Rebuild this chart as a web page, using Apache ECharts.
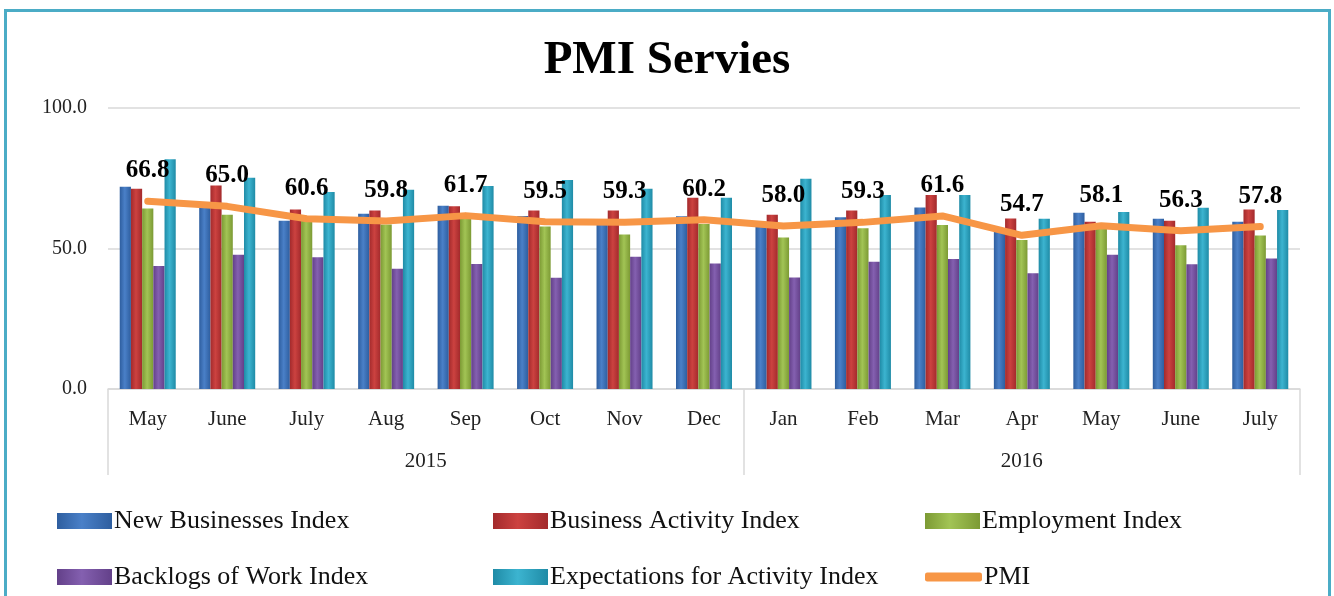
<!DOCTYPE html>
<html>
<head>
<meta charset="utf-8">
<script src="https://cdn.jsdelivr.net/npm/echarts@6/dist/echarts.min.js"></script>
<style>
html,body{margin:0;padding:0;background:#fff;}
#c{width:1334px;height:596px;}
</style>
</head>
<body>
<div id="c"></div>
<script>
const months = ['May','June','July','Aug','Sep','Oct','Nov','Dec','Jan','Feb','Mar','Apr','May','June','July'];
const years = ['2015','2016'];
const yearSpan = [8, 7];
const yTicks = [0, 50, 100];
const newBusinesses = [72.0,66.5,59.9,62.4,65.2,61.6,59.2,61.5,58.6,61.1,64.6,56.0,62.7,60.6,59.5];
const businessActivity = [71.3,72.4,63.9,63.5,65.0,63.5,63.5,68.1,62.0,63.5,69.0,60.7,59.5,59.9,63.9];
const employment = [64.2,62.0,60.6,58.5,61.0,57.8,55.0,58.7,53.9,57.2,58.4,53.0,57.2,51.2,54.6];
const backlogs = [43.8,47.8,46.9,42.8,44.5,39.6,47.1,44.7,39.7,45.3,46.3,41.2,47.8,44.4,46.4];
const expectations = [81.8,75.2,70.1,70.9,72.2,74.4,71.3,68.1,74.8,69.0,69.0,60.6,63.0,64.5,63.7];
const pmi = [66.8,65.0,60.6,59.8,61.7,59.5,59.3,60.2,58.0,59.3,61.6,54.7,58.1,56.3,57.8];
const seriesNames = ['New Businesses Index','Business Activity Index','Employment Index','Backlogs of Work Index','Expectations for Activity Index','PMI'];

const serif = '"Liberation Serif", "DejaVu Serif", serif';
function grad(dark, light){
  return new echarts.graphic.LinearGradient(0,0,1,0,[
    {offset:0,color:dark},{offset:0.45,color:light},{offset:1,color:dark}
  ]);
}
const barColors = [
  grad('#2E5E9F','#4A80C8'),
  grad('#A32A2C','#CC4240'),
  grad('#7C9A34','#A2C455'),
  grad('#634089','#8460B0'),
  grad('#1F8BA6','#3CB4D0')
];
const barData = [newBusinesses, businessActivity, employment, backlogs, expectations];

const yearCenters = [];
const yearBounds = [0];
let acc = 0;
yearSpan.forEach(s => { yearCenters.push(acc + s/2); acc += s; yearBounds.push(acc); });

const series = barData.map((d,i) => ({
  name: seriesNames[i], type:'bar', data:d, xAxisIndex:0, yAxisIndex:0,
  barWidth: 11.2, barGap: '0%',
  itemStyle:{color:barColors[i]}
}));
series.push({
  name:'PMI', type:'line', data:pmi, xAxisIndex:0, yAxisIndex:0,
  symbol:'circle', symbolSize:2, z:5,
  itemStyle:{color:'#F79646'},
  lineStyle:{color:'#F79646', width:7, cap:'round', join:'round'},
  label:{show:true, position:'top', distance:17, fontFamily:serif, fontWeight:'bold', fontSize:25, color:'#000',
    formatter:p=>p.value.toFixed(1)}
});

const legendPos = [[57,508],[493,508],[925,508],[57,564],[493,564],[925,564]];
const legends = seriesNames.map((n,i)=>({
  data:[ i===5 ? {name:n, icon:'roundRect', itemStyle:{color:'#F79646'}} : {name:n, icon:'rect'} ],
  left: legendPos[i][0], top: legendPos[i][1], padding:0,
  itemWidth: i===5 ? 57 : 55, itemHeight: i===5 ? 9 : 16, itemGap: 0,
  selectedMode:false,
  textStyle:{fontFamily:serif, fontSize:26, color:'#111', padding:[0,0,0,-3]}
}));

const option = {
  animation:false,
  backgroundColor:'#fff',
  title:{text:'PMI Servies', left:'center', top:32, textStyle:{fontFamily:serif, fontWeight:'bold', fontSize:47, color:'#000'}},
  legend: legends,
  grid:{left:108, right:34, top:108, bottom:207, containLabel:false},
  xAxis:[
    {type:'category', data:months, position:'bottom',
     axisLine:{show:true, lineStyle:{color:'#D9D9D9', width:1.5}},
     axisTick:{show:false},
     axisLabel:{fontFamily:serif, fontSize:21, color:'#222', margin:20, interval:0}},
    {type:'value', min:0, max:15, position:'bottom',
     axisLine:{show:false}, splitLine:{show:false},
     axisTick:{show:true, customValues:yearBounds, length:86, lineStyle:{color:'#D9D9D9', width:1.5}},
     axisLabel:{show:true, customValues:yearCenters, margin:62, fontFamily:serif, fontSize:21, color:'#222',
       formatter:v=>{const i=yearCenters.indexOf(v); return i>=0?years[i]:'';}}}
  ],
  yAxis:{type:'value', min:yTicks[0], max:yTicks[yTicks.length-1], interval:50,
    axisLine:{show:false}, axisTick:{show:false},
    splitLine:{lineStyle:{color:'#D9D9D9', width:1.5}},
    axisLabel:{fontFamily:serif, fontSize:20, color:'#222', margin:21, formatter:v=>v.toFixed(1)}},
  graphic:[{type:'rect', shape:{x:5.5, y:10.5, width:1324, height:620}, style:{fill:'none', stroke:'#4BACC6', lineWidth:3}, silent:true, z:100}],
  series: series
};
const chart = echarts.init(document.getElementById('c'), null, {renderer:'canvas'});
chart.setOption(option);
</script>
</body>
</html>
